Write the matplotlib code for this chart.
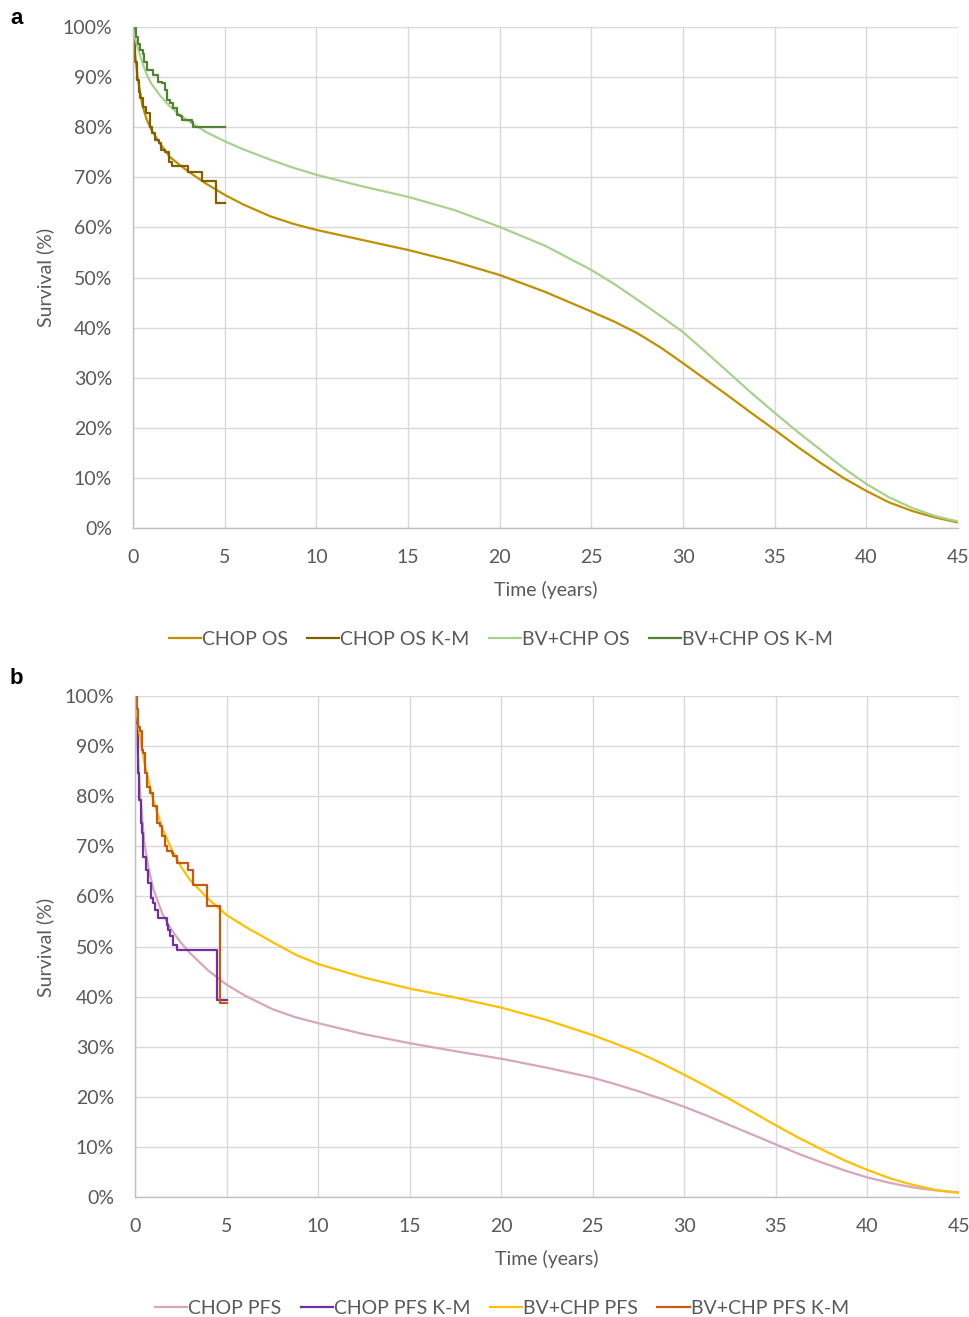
import matplotlib
matplotlib.use("Agg")
import matplotlib.pyplot as plt
from matplotlib.lines import Line2D

# ---------------------------------------------------------------------------
# Data (time in years, survival in %)
# ---------------------------------------------------------------------------
t_model = [0, 0.1, 0.25, 0.5, 0.75, 1, 1.5, 2, 2.5, 3, 4, 5, 6, 7.5, 8.75, 10,
           12.5, 15, 17.5, 20, 22.5, 25, 26.25, 27.5, 28.75, 30, 31.25, 32.5,
           33.75, 35, 36.25, 37.5, 38.75, 40, 41.25, 42.5, 43.75, 45]

chop_os = [100, 95, 90, 84.5, 81.5, 79.5, 76.6, 74.1, 72.6, 71.2, 68.7, 66.5,
           64.6, 62.2, 60.7, 59.5, 57.5, 55.5, 53.2, 50.5, 47.1, 43.2, 41.2,
           38.9, 36.1, 32.9, 29.6, 26.3, 22.9, 19.6, 16.2, 13.0, 10.0, 7.4,
           5.1, 3.4, 2.1, 1.1]
bv_os = [100, 98, 96, 93, 90.5, 88.7, 86.2, 84.2, 82.6, 81.3, 79.0, 77.2, 75.6,
         73.5, 71.9, 70.5, 68.2, 66.1, 63.5, 60.1, 56.3, 51.5, 48.7, 45.6,
         42.4, 39.1, 35.1, 31.0, 26.9, 23.0, 19.2, 15.6, 12.0, 8.8, 6.1, 4.0,
         2.4, 1.3]
chop_pfs = [100, 92, 82, 71, 65.5, 61.5, 56.5, 53.3, 50.8, 48.7, 45.2, 42.4,
            40.2, 37.5, 35.9, 34.7, 32.5, 30.7, 29.1, 27.6, 25.8, 23.8, 22.5,
            21.1, 19.6, 18.0, 16.2, 14.3, 12.4, 10.5, 8.6, 6.9, 5.3, 3.9, 2.8,
            1.9, 1.3, 0.9]
bv_pfs = [100, 96.5, 92.5, 87, 83, 79.2, 73.5, 69.4, 66, 63.3, 59.5, 56.3,
          54.0, 50.9, 48.4, 46.5, 43.8, 41.6, 39.8, 37.8, 35.3, 32.3, 30.6,
          28.8, 26.7, 24.4, 22.0, 19.5, 16.9, 14.3, 11.8, 9.5, 7.3, 5.4, 3.7,
          2.4, 1.4, 0.8]

# Kaplan-Meier steps (post-step values)
km_chop_os_t = [0, 0.05, 0.1, 0.2, 0.3, 0.4, 0.55, 0.7, 0.9, 1.05, 1.2, 1.4,
                1.55, 1.75, 1.95, 2.15, 2.25, 3.0, 3.75, 4.55, 5.0]
km_chop_os_s = [100, 97, 93, 89.4, 87, 85.8, 84, 82.8, 80, 78.8, 77.5, 76.8,
                75.4, 75.1, 73.1, 72.3, 72.3, 71.1, 69.3, 64.8, 64.8]
km_bv_os_t = [0, 0.16, 0.29, 0.38, 0.53, 0.62, 0.75, 1.1, 1.38, 1.56, 1.75,
              1.84, 2.0, 2.2, 2.38, 2.56, 2.65, 3.2, 3.25, 5.0]
km_bv_os_s = [100, 98, 96.7, 95.4, 94.7, 93, 91.4, 90.4, 89.1, 88.8, 87.4,
              85.4, 84.8, 83.8, 82.4, 82.2, 81.4, 81.1, 80.1, 80.1]
km_chop_pfs_t = [0, 0.05, 0.09, 0.14, 0.18, 0.24, 0.31, 0.36, 0.45, 0.6, 0.73,
                 0.86, 1.0, 1.1, 1.27, 1.73, 1.82, 1.91, 2.09, 2.28, 2.64,
                 4.46, 4.55, 5.0]
km_chop_pfs_s = [100, 97, 94.6, 89, 84.6, 79.2, 74.6, 72.6, 67.9, 65.3, 62.6,
                 59.7, 58.6, 57.3, 55.6, 54.3, 53.3, 52, 50.3, 49.3, 49.3,
                 39.3, 39.3, 39.3]
km_bv_pfs_t = [0, 0.13, 0.18, 0.27, 0.36, 0.45, 0.55, 0.64, 0.82, 1.0, 1.18,
               1.36, 1.46, 1.64, 1.73, 2.0, 2.1, 2.28, 2.92, 3.19, 3.95, 4.64,
               5.0]
km_bv_pfs_s = [100, 97.4, 93.9, 93, 89.2, 88.6, 84.6, 81.9, 80.6, 78, 74.6,
               74, 72, 70, 69, 68.6, 68, 66.6, 65.3, 62.3, 58, 38.7, 38.7]

x_ticks = list(range(0, 50, 5))
y_ticks = list(range(0, 110, 10))

GRID = "#D9D9D9"
TEXT = "#595959"
FS = 14

plt.rcParams["font.family"] = ["Lato", "DejaVu Sans"]

W, H = 969, 1317
fig = plt.figure(figsize=(W / 100, H / 100), dpi=100)


def make_axes(left, right, top, bottom):
    ax = fig.add_axes([left / W, 1 - bottom / H, (right - left) / W, (bottom - top) / H])
    ax.set_xlim(0, 45)
    ax.set_ylim(0, 100)
    ax.set_xticks(x_ticks)
    ax.set_yticks(y_ticks)
    ax.set_yticklabels([f"{v}%" for v in y_ticks])
    ax.grid(True, color=GRID, lw=1.0)
    ax.set_axisbelow(True)
    for s in ("top", "right"):
        ax.spines[s].set_visible(False)
    for s in ("left", "bottom"):
        ax.spines[s].set_color("#BFBFBF")
        ax.spines[s].set_linewidth(1.0)
    ax.tick_params(length=0, labelsize=FS, colors=TEXT)
    ax.tick_params(axis="y", pad=15)
    ax.tick_params(axis="x", pad=15)
    ax.set_xlabel("Time (years)", fontsize=FS, color=TEXT, labelpad=11)
    return ax


LW = 1.6

# ── Panel a: overall survival ──
ax1 = make_axes(133, 958, 27, 528)
ax1.plot(t_model, chop_os, color="#BF9000", lw=LW)
ax1.step(km_chop_os_t, km_chop_os_s, where="post", color="#7F6000", lw=LW)
ax1.plot(t_model, bv_os, color="#A9D18E", lw=LW)
ax1.step(km_bv_os_t, km_bv_os_s, where="post", color="#548235", lw=LW)

# ── Panel b: progression-free survival ──
ax2 = make_axes(135, 959, 696, 1197)
ax2.plot(t_model, chop_pfs, color="#D5A6BD", lw=LW)
ax2.step(km_chop_pfs_t, km_chop_pfs_s, where="post", color="#7030A0", lw=LW)
ax2.plot(t_model, bv_pfs, color="#FFC000", lw=LW)
ax2.step(km_bv_pfs_t, km_bv_pfs_s, where="post", color="#C55A11", lw=LW)

for cy in (277, 947):
    fig.text(45 / W, 1 - cy / H, "Survival (%)", rotation=90, fontsize=FS,
             color=TEXT, ha="center", va="center")


def add_legend(names, colors, cx, cy):
    handles = [Line2D([0], [0], color=c, lw=LW) for c in colors]
    leg = fig.legend(handles, names, loc="center", bbox_to_anchor=(cx / W, 1 - cy / H),
                     ncol=4, frameon=False, fontsize=FS, handlelength=1.65,
                     handletextpad=0.05, columnspacing=1.0, borderpad=0)
    for txt in leg.get_texts():
        txt.set_color(TEXT)


add_legend(["CHOP OS", "CHOP OS K-M", "BV+CHP OS", "BV+CHP OS K-M"],
           ["#BF9000", "#7F6000", "#A9D18E", "#548235"], 501, 639)
add_legend(["CHOP PFS", "CHOP PFS K-M", "BV+CHP PFS", "BV+CHP PFS K-M"],
           ["#D5A6BD", "#7030A0", "#FFC000", "#C55A11"], 502, 1308)

fig.text(10 / W, 1 - 18 / H, "a", fontsize=16, fontweight="bold",
         family="Liberation Sans", va="center", ha="left")
fig.text(10 / W, 1 - 679 / H, "b", fontsize=16, fontweight="bold",
         family="Liberation Sans", va="center", ha="left")

fig.savefig("out.png", dpi=100)
